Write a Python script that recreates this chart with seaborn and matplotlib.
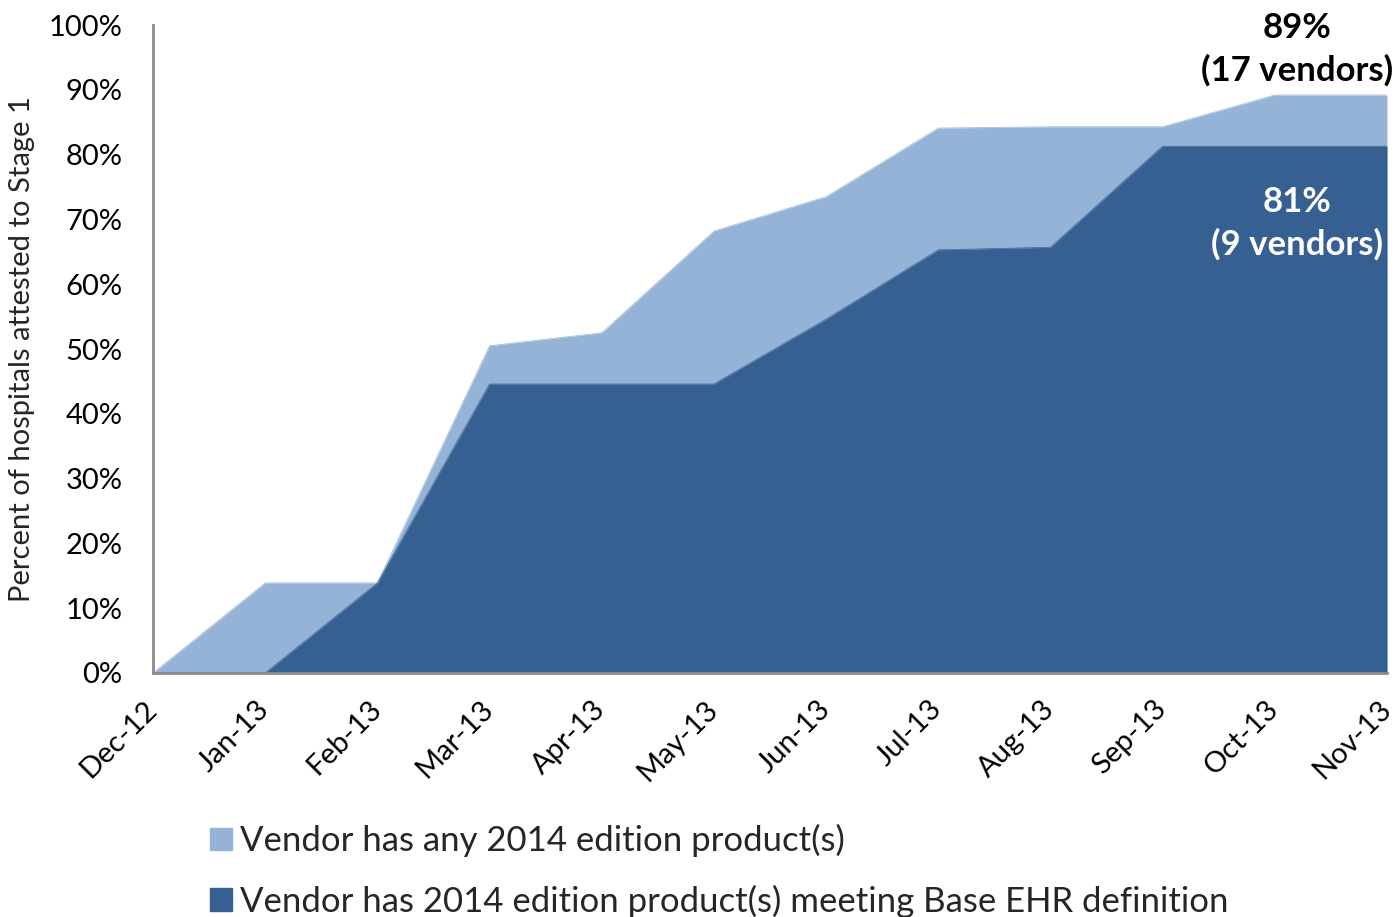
import pandas as pd
import matplotlib.pyplot as plt
import matplotlib.transforms as mtransforms
import seaborn as sns
from matplotlib.patches import Patch

# Data
months = ["Dec-12", "Jan-13", "Feb-13", "Mar-13", "Apr-13", "May-13",
          "Jun-13", "Jul-13", "Aug-13", "Sep-13", "Oct-13", "Nov-13"]
any_2014 = [0, 13.9, 13.9, 50.5, 52.5, 68.2, 73.5, 84.1, 84.3, 84.3, 89.2, 89.2]
base_ehr = [0, 0, 13.9, 44.6, 44.6, 44.6, 54.6, 65.3, 65.7, 81.3, 81.3, 81.3]

light = "#95B3D7"
dark = "#376092"

df = pd.DataFrame({"month": months, "pos": range(len(months)),
                   "any": any_2014, "base": base_ehr})

sns.set_style("white")
plt.rcParams["font.family"] = ["Lato", "DejaVu Sans"]

fig = plt.figure(figsize=(13.99, 9.17), dpi=100)
ax = fig.add_axes([0.1094, 0.2661, 0.882, 0.7066])

# -----------------------------------
# Area chart (two overlapping areas)
# -----------------------------------
ax.fill_between(df["pos"], 0, df["any"], color=light, linewidth=0)
ax.fill_between(df["pos"], 0, df["base"], color=dark, linewidth=0)
sns.lineplot(x="pos", y="any", data=df, ax=ax, color=light, linewidth=0.5)
sns.lineplot(x="pos", y="base", data=df, ax=ax, color=dark, linewidth=0.5)

ax.set_xlim(0, len(months) - 1)
ax.set_ylim(0, 100)
ax.set_yticks(range(0, 101, 10))
ax.set_yticklabels([f"{v}%" for v in range(0, 101, 10)], fontsize=21)
ax.set_xticks(df["pos"])
ax.set_xticklabels(months, fontsize=21, rotation=45, ha="right", va="baseline",
                   rotation_mode="anchor")
ax.set_xlabel("")
ax.set_ylabel("Percent of hospitals attested to Stage 1", fontsize=21, labelpad=10)

for side in ["top", "right"]:
    ax.spines[side].set_visible(False)
for side in ["left", "bottom"]:
    ax.spines[side].set_color("#8C8C8C")
    ax.spines[side].set_linewidth(2)
ax.tick_params(axis="both", direction="out", length=8, width=2, color="#8C8C8C",
               labelcolor="black")
ax.tick_params(axis="y", pad=14)
ax.tick_params(axis="x", pad=19)

# nudge the rotated month labels a little to the right
shift = mtransforms.ScaledTranslation(4 / 72, 0, fig.dpi_scale_trans)
for lbl in ax.get_xticklabels():
    lbl.set_transform(lbl.get_transform() + shift)

# Annotations
ax.text(10.2, 96.3, "89%\n(17 vendors)", ha="center", va="center",
        fontsize=25, fontweight="bold", color="black", linespacing=1.38)
ax.text(10.2, 69.4, "81%\n(9 vendors)", ha="center", va="center",
        fontsize=25, fontweight="bold", color="white", linespacing=1.38)

# Legend below the chart
handles = [Patch(color=light, label="Vendor has any 2014 edition product(s)"),
           Patch(color=dark, label="Vendor has 2014 edition product(s) meeting Base EHR definition")]
fig.legend(handles=handles, loc="upper left", bbox_to_anchor=(0.1403, 0.1165),
           frameon=False, fontsize=25, handlelength=0.63, handleheight=0.63,
           handletextpad=0.23, labelspacing=0.79, borderaxespad=0)

fig.savefig("out.png", dpi=100)
